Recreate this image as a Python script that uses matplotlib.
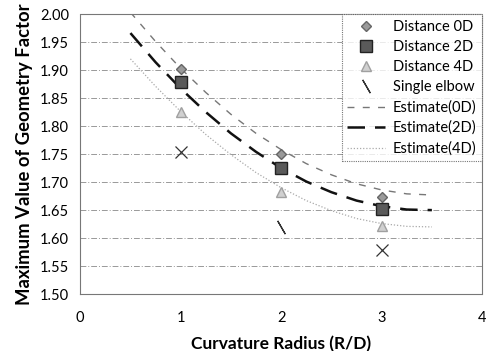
import matplotlib
matplotlib.use("Agg")
import matplotlib.pyplot as plt

plt.rcParams['font.family'] = ['Lato', 'DejaVu Sans']

# measured points
radius = [1, 2, 3]
dist_0d = [1.902, 1.750, 1.673]
dist_2d = [1.879, 1.725, 1.652]
dist_4d = [1.825, 1.682, 1.621]
elbow_x = [1, 3]
elbow_y = [1.754, 1.579]
elbow_mid_x = [2]
elbow_mid_y = [1.620]

# estimate curves
est_x = [0.5, 0.75, 1.0, 1.25, 1.5, 1.75, 2.0, 2.25, 2.5, 2.75, 3.0, 3.25, 3.5]
est_0d = [2.003, 1.951, 1.903, 1.860, 1.821, 1.787, 1.758, 1.733, 1.713, 1.697, 1.686, 1.679, 1.677]
est_2d = [1.966, 1.914, 1.867, 1.825, 1.787, 1.754, 1.725, 1.701, 1.682, 1.667, 1.657, 1.651, 1.650]
est_4d = [1.920, 1.871, 1.826, 1.785, 1.749, 1.717, 1.690, 1.667, 1.649, 1.635, 1.626, 1.621, 1.620]

fig = plt.figure(figsize=(4.86, 3.51), dpi=100)
ax = fig.add_axes([0.165, 0.162, 0.827, 0.798])

ax.plot(radius, dist_0d, linestyle='none', marker='D', markersize=5.5,
        markerfacecolor='#9a9a9a', markeredgecolor='#666666', label='Distance 0D', zorder=4)
ax.plot(radius, dist_2d, linestyle='none', marker='s', markersize=8,
        markerfacecolor='#5a5a5a', markeredgecolor='#222222', label='Distance 2D', zorder=4)
ax.plot(radius, dist_4d, linestyle='none', marker='^', markersize=7,
        markerfacecolor='#d0d0d0', markeredgecolor='#a0a0a0', label='Distance 4D', zorder=4)
ax.plot(elbow_x, elbow_y, linestyle='none', marker='x', markersize=9,
        markeredgecolor='#333333', markeredgewidth=0.9, zorder=4)
ax.plot(elbow_mid_x, elbow_mid_y, linestyle='none', marker=(2, 2, 30), markersize=11,
        markeredgecolor='#333333', markeredgewidth=0.9, label='Single elbow', zorder=4)

ax.plot(est_x, est_0d, color='#777777', linewidth=1.0, dashes=(5, 6), label='Estimate(0D)', zorder=3)
ax.plot(est_x, est_2d, color='#111111', linewidth=1.8, dashes=(7, 4), label='Estimate(2D)', zorder=3)
ax.plot(est_x, est_4d, color='#aaaaaa', linewidth=0.9, dashes=(1, 1.5), label='Estimate(4D)', zorder=3)

ax.set_xlim(0, 4)
ax.set_ylim(1.5, 2.0)
ax.set_xticks([0, 1, 2, 3, 4])
ax.set_yticks([1.50, 1.55, 1.60, 1.65, 1.70, 1.75, 1.80, 1.85, 1.90, 1.95, 2.00])
ax.set_yticklabels(['%.2f' % v for v in ax.get_yticks()])
ax.tick_params(length=0, labelsize=10.5, pad=8)
ax.tick_params(axis='x', pad=12)

ax.grid(axis='y', color='#999999', linestyle=(0, (6, 2, 1, 2)), linewidth=0.7)
for s in ax.spines.values():
    s.set_linestyle((0, (1, 1)))
    s.set_color('#777777')
    s.set_linewidth(0.8)

ax.set_xlabel('Curvature Radius (R/D)', fontsize=12.5, fontweight='bold', labelpad=8)
ax.set_ylabel('Maximum Value of Geometry Factor', fontsize=13.3, fontweight='bold', labelpad=5)

leg = ax.legend(loc='upper right', fontsize=10.5, frameon=True, fancybox=False,
                borderaxespad=0.0, handlelength=2.6, handletextpad=0.5,
                labelspacing=0.42, borderpad=0.4)
leg.get_frame().set_edgecolor('#555555')
leg.get_frame().set_linestyle((0, (1, 1)))
leg.get_frame().set_linewidth(0.8)

fig.savefig('out.png', dpi=100)
